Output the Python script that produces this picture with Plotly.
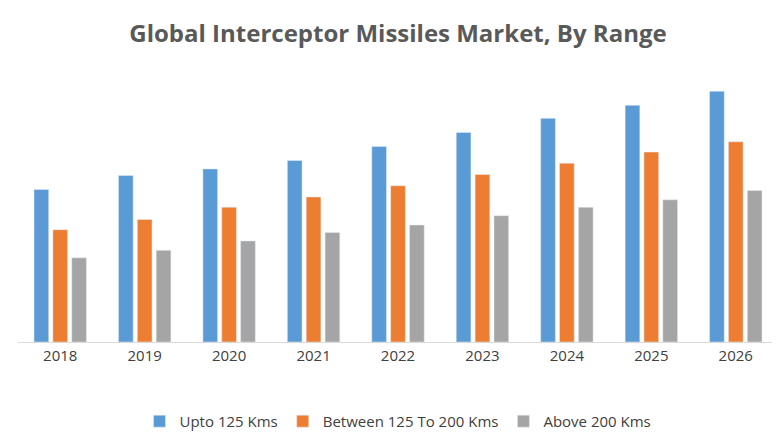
import plotly.graph_objects as go

years = ["2018", "2019", "2020", "2021", "2022", "2023", "2024", "2025", "2026"]
upto_125 = [163, 178, 185, 194, 209, 224, 239, 253, 268]
between_125_200 = [120, 131, 144, 155, 167, 179, 191, 203, 214]
above_200 = [90, 98, 108, 117, 125, 135, 144, 152, 162]

fig = go.Figure()
fig.add_trace(go.Bar(x=years, y=upto_125, name="Upto 125 Kms", marker_color="#5B9BD5"))
fig.add_trace(go.Bar(x=years, y=between_125_200, name="Between 125 To 200 Kms", marker_color="#ED7D31"))
fig.add_trace(go.Bar(x=years, y=above_200, name="Above 200 Kms", marker_color="#A5A5A5"))

fig.update_layout(
    width=780, height=440,
    paper_bgcolor="white", plot_bgcolor="white",
    title=dict(text="<b>Global Interceptor Missiles Market, By Range</b>", x=0.5, y=0.96,
               xanchor="center", font=dict(family="Open Sans", size=24, color="#595959")),
    margin=dict(l=10, r=10, t=72, b=80),
    barmode="group", bargap=0.33, bargroupgap=0.22,
    font=dict(family="Open Sans", size=15, color="#404040"),
    legend=dict(orientation="h", x=0.5, xanchor="center", y=-0.24, yanchor="top",
                font=dict(size=15, color="#404040")),
    showlegend=True,
)
fig.update_xaxes(showline=True, linecolor="#D9D9D9", linewidth=1, ticks="", showgrid=False)
fig.update_yaxes(visible=False, range=[0, 280])

fig.write_html("out.html")
